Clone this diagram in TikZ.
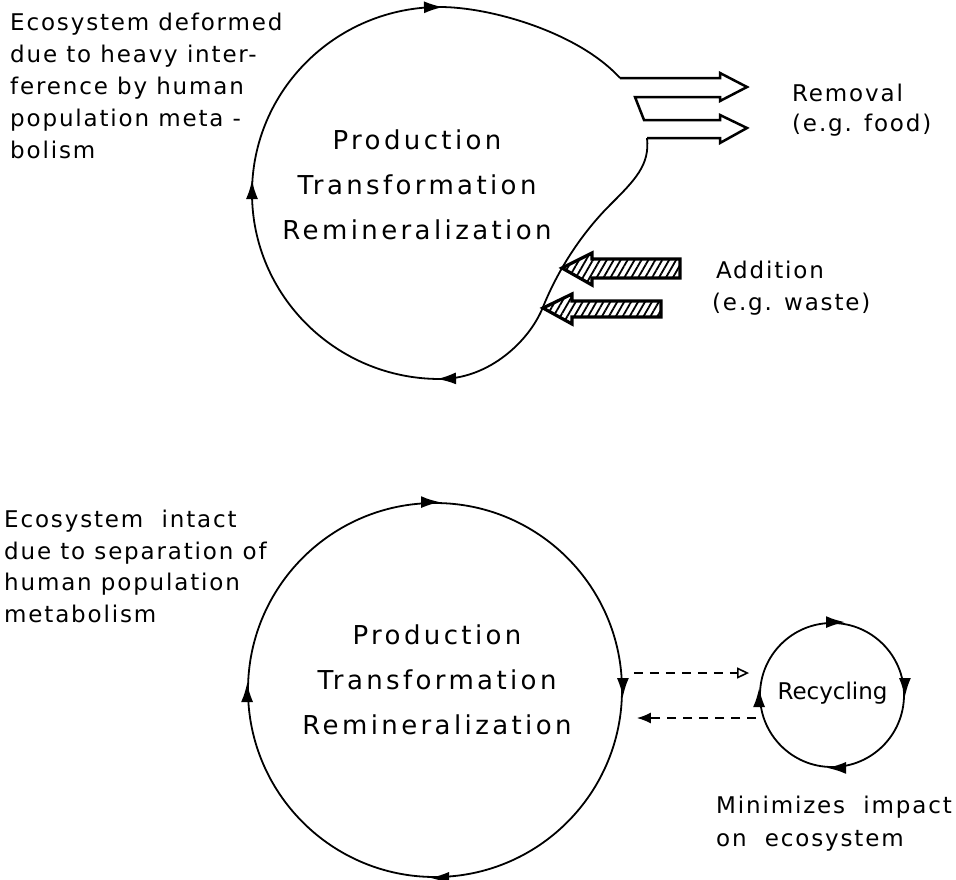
\documentclass[tikz,border=0pt]{standalone}
\usepackage{fontspec}
\newfontfamily\lett[LetterSpace=13]{DejaVu Sans}
\newfontfamily\letts[LetterSpace=8]{DejaVu Sans}
\newfontfamily\plainf{DejaVu Sans}
\usetikzlibrary{arrows.meta,patterns.meta,calc}
\tikzset{
  ring/.style={circle, draw, line width=1.8pt, inner sep=0pt},
  cyc/.style={line width=1.8pt, -{Latex[length=19pt,width=12pt]}},
  sidetext/.style={inner sep=0pt, align=left, anchor=north west, font=\letts\fontsize{23}{32}\selectfont},
  centretext/.style={inner sep=0pt, align=center, font=\lett\fontsize{26}{45}\selectfont},
  outarrow/.style={line width=2.5pt, line join=miter},
  inarrow/.style={line width=3.2pt, line join=miter, pattern={Lines[angle=60,distance=6pt,line width=1.8pt]}},
  flow/.style={line width=1.5pt, dash pattern=on 9pt off 7pt},
  blobline/.style={line width=1.8pt},
}
\begin{document}
\begin{tikzpicture}[x=1pt,y=-1pt]
\useasboundingbox (0,0) rectangle (956,879);

% ---------- top: deformed ecosystem ----------
\draw[blobline] (647,138) .. controls (650,165) and (635,180) .. (610,205)
  .. controls (585,230) and (560,265) .. (543,307)
  .. controls (530,340) and (490,379) .. (440,379)
  arc[start angle=90, end angle=270, x radius=188, y radius=186]
  .. controls (490,7) and (578,32) .. (620,78);
% removal arrows (open outlines leaving the blob)
\draw[outarrow] (620,78) -- (720,78) -- (720,73) -- (747,87) -- (720,101) -- (720,97)
  -- (635,97) -- (644,120) -- (720,120) -- (720,115) -- (747,128) -- (720,143)
  -- (720,138) -- (647,138);
% addition arrows (hatched)
\draw[inarrow] (562,268) -- (592,253) -- (592,259) -- (680,259) -- (680,278)
  -- (592,278) -- (592,285) -- cycle;
\draw[inarrow] (543,308) -- (572,294) -- (572,301) -- (661,301) -- (661,317)
  -- (572,317) -- (572,324) -- cycle;
% circulation marks on the blob
\draw[cyc] (424,7.3) -- (443,7.1);
\draw[cyc] (252,199) -- (252,180);
\draw[cyc] (456,378.4) -- (437,379);

\node[centretext] (topc) at (417,185) {Production\\Transformation\\Remineralization};
\node[sidetext] (toplab) at (10,13) {Ecosystem deformed\\due to heavy inter-\\ference by human\\population meta -\\bolism};
\node[sidetext, font=\letts\fontsize{23}{30}\selectfont] (remlab) at (792,84) {Removal\\(e.g. food)};
\node[sidetext] (addlab) at (712,261) {\,Addition\\(e.g. waste)};

% ---------- bottom: intact ecosystem ----------
\node[ring, minimum size=374pt] (eco) at (435,690) {};
\node[centretext] (botc) at (437,680) {Production\\Transformation\\Remineralization};
\node[ring, minimum size=144pt] (rec) at (832,695) {};
\node[inner sep=0pt, anchor=base, font=\plainf\fontsize{23}{28}\selectfont] (rectext) at (832.5,699) {Recycling};

% circulation marks on the big circle (clockwise)
\draw[cyc] ([xshift=-14pt]eco.north) -- ([xshift=5pt]eco.north);
\draw[cyc] ([yshift=12pt]eco.east) -- ([yshift=-7pt]eco.east);
\draw[cyc] ([xshift=14pt]eco.south) -- ([xshift=-5pt]eco.south);
\draw[cyc] ([yshift=-12pt]eco.west) -- ([yshift=7pt]eco.west);
% circulation marks on the recycling circle (clockwise)
\draw[cyc] ([xshift=-5pt]rec.north) -- ([xshift=13pt]rec.north);
\draw[cyc] ([yshift=16pt]rec.east) -- ([yshift=-2pt]rec.east);
\draw[cyc] ([xshift=13pt]rec.south) -- ([xshift=-5pt]rec.south);
\draw[cyc] ([yshift=-11pt]rec.west) -- ([yshift=7pt]rec.west);

% dashed exchange arrows
\draw[flow, -{Triangle[open, length=12pt, width=11pt, line width=1.6pt]}]
  ($(eco.east)+(11,-17)$) -- ($(rec.west)+(-10,-22)$);
\draw[flow, -{Latex[length=14pt, width=11pt]}]
  ($(rec.west)+(-3,23)$) -- ($(eco.east)+(14,28)$);

\node[sidetext, font=\letts\fontsize{23}{31.5}\selectfont] (botlab) at (4,510) {Ecosystem \ intact\\due to separation of\\human population\\metabolism};
\node[sidetext, font=\letts\fontsize{23}{33}\selectfont] (minlab) at (716,796) {Minimizes \ impact\\on \ ecosystem};
\end{tikzpicture}
\end{document}
